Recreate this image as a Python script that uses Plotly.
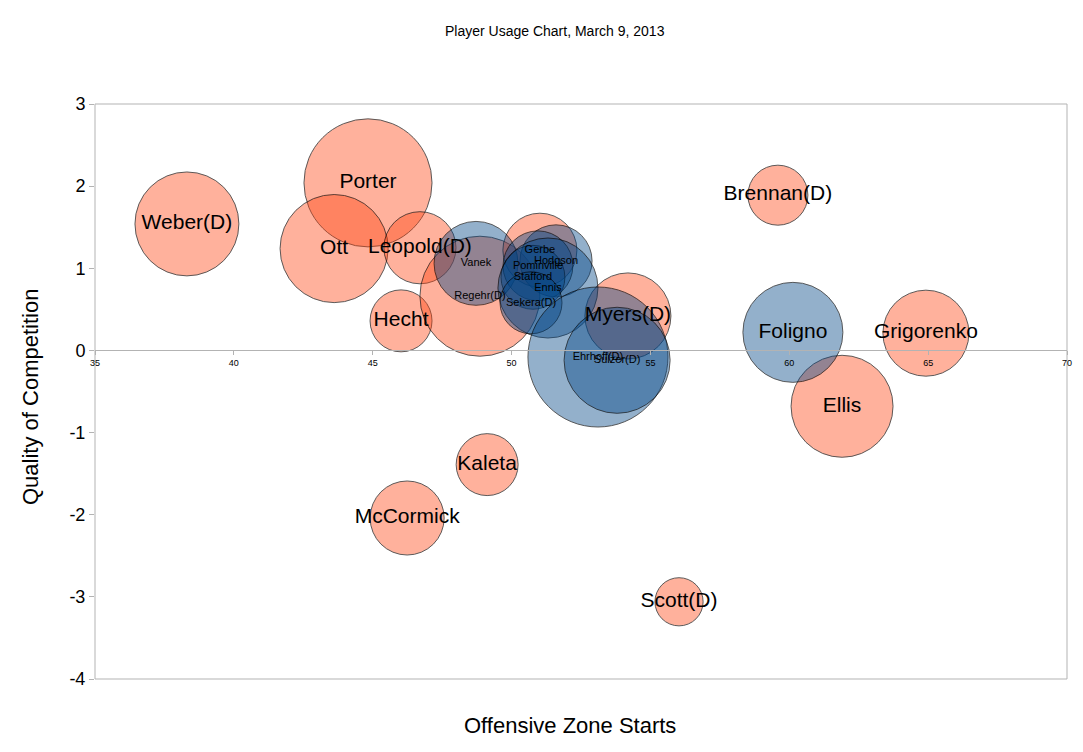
import plotly.graph_objects as go

players = ["Weber(D)", "Porter", "Ott", "Leopold(D)", "Hecht", "Regehr(D)", "Vanek",
           "Gerbe", "Hodgson", "Pominville", "Stafford", "Ennis", "Sekera(D)",
           "Ehrhoff(D)", "Sulzer(D)", "Myers(D)", "Foligno", "Grigorenko",
           "Brennan(D)", "Ellis", "Kaleta", "McCormick", "Scott(D)"]
oz_starts = [38.31, 44.83, 43.61, 46.70, 46.02, 48.86, 48.72,
             51.02, 51.60, 50.95, 50.77, 51.31, 50.70,
             53.11, 53.80, 54.19, 60.13, 64.92,
             59.59, 61.90, 49.12, 46.24, 56.03]
qual_comp = [1.54, 2.04, 1.24, 1.25, 0.36, 0.66, 1.06,
             1.22, 1.09, 1.03, 0.89, 0.76, 0.58,
             -0.08, -0.12, 0.42, 0.22, 0.21,
             1.89, -0.68, -1.39, -2.04, -3.06]
bubble_value = [270, 410, 292, 130, 96, 360, 176,
                137, 130, 122, 102, 250, 96,
                490, 281, 185, 250, 185,
                90, 260, 96, 137, 58]
group = ["neg", "neg", "neg", "neg", "neg", "neg", "pos",
         "neg", "pos", "pos", "pos", "pos", "pos",
         "pos", "pos", "neg", "pos", "neg",
         "neg", "neg", "neg", "neg", "neg"]
small_label_players = {"Vanek", "Regehr(D)", "Gerbe", "Hodgson", "Pominville", "Stafford",
                       "Ennis", "Sekera(D)", "Ehrhoff(D)", "Sulzer(D)"}
x_ticks = [35, 40, 45, 50, 55, 60, 65, 70]
y_ticks = [-4, -3, -2, -1, 0, 1, 2, 3]

colors = {"neg": "rgba(255,66,14,0.58)", "pos": "rgba(0,69,134,0.6)"}

fig = go.Figure()
for g in ["neg", "pos"]:
    idx = [i for i in range(len(players)) if group[i] == g]
    fig.add_trace(go.Scatter(
        x=[oz_starts[i] for i in idx], y=[qual_comp[i] for i in idx],
        mode="markers",
        marker=dict(size=[bubble_value[i] for i in idx], sizemode="area", sizeref=0.05,
                    color=colors[g], line=dict(color="rgba(0,0,0,0.9)", width=1)),
        hoverinfo="skip", showlegend=False))

for small, fsize in [(False, 21), (True, 11)]:
    idx = [i for i in range(len(players)) if (players[i] in small_label_players) == small]
    fig.add_trace(go.Scatter(
        x=[oz_starts[i] for i in idx], y=[qual_comp[i] for i in idx],
        mode="text", text=[players[i] for i in idx], textposition="middle center",
        textfont=dict(family="Liberation Sans, Arial, sans-serif", size=fsize, color="black"),
        hoverinfo="skip", showlegend=False))

fig.update_layout(
    width=1083, height=752,
    margin=dict(l=95, r=16, t=104, b=73),
    paper_bgcolor="white", plot_bgcolor="white",
    font=dict(family="Liberation Sans, Arial, sans-serif", color="black"),
    xaxis=dict(range=[35, 70], tickvals=x_ticks, ticktext=[str(v) for v in x_ticks],
               anchor="free", position=4/7, showline=True, linecolor="#b3b3b3", linewidth=1,
               ticks="outside", ticklen=4, tickcolor="#b3b3b3", tickfont=dict(size=9),
               showgrid=False, zeroline=False, fixedrange=True),
    yaxis=dict(range=[-4, 3], tickvals=y_ticks, ticktext=[str(v) for v in y_ticks],
               showline=False, ticks="outside", ticklen=5, tickcolor="#b3b3b3",
               tickfont=dict(size=18), showgrid=False, zeroline=False, fixedrange=True),
    shapes=[dict(type="rect", xref="paper", yref="paper", x0=0, x1=1, y0=0, y1=1,
                 line=dict(color="#b3b3b3", width=1), fillcolor="rgba(0,0,0,0)", layer="below")],
    annotations=[
        dict(text="Player Usage Chart, March 9, 2013", xref="paper", yref="paper",
             x=(555 - 95) / 972, y=(679 - 31) / 575, showarrow=False,
             font=dict(size=14), xanchor="center", yanchor="middle"),
        dict(text="Offensive Zone Starts", xref="paper", yref="paper",
             x=(570 - 95) / 972, y=-(725 - 679) / 575, showarrow=False,
             font=dict(size=22), xanchor="center", yanchor="middle"),
        dict(text="Quality of Competition", xref="paper", yref="paper",
             x=-(95 - 30) / 972, y=(679 - 397) / 575, showarrow=False, textangle=-90,
             font=dict(size=22), xanchor="center", yanchor="middle"),
    ],
)

fig.write_html("out.html", config={"displayModeBar": False},
               post_script="document.body.style.margin='0';")
